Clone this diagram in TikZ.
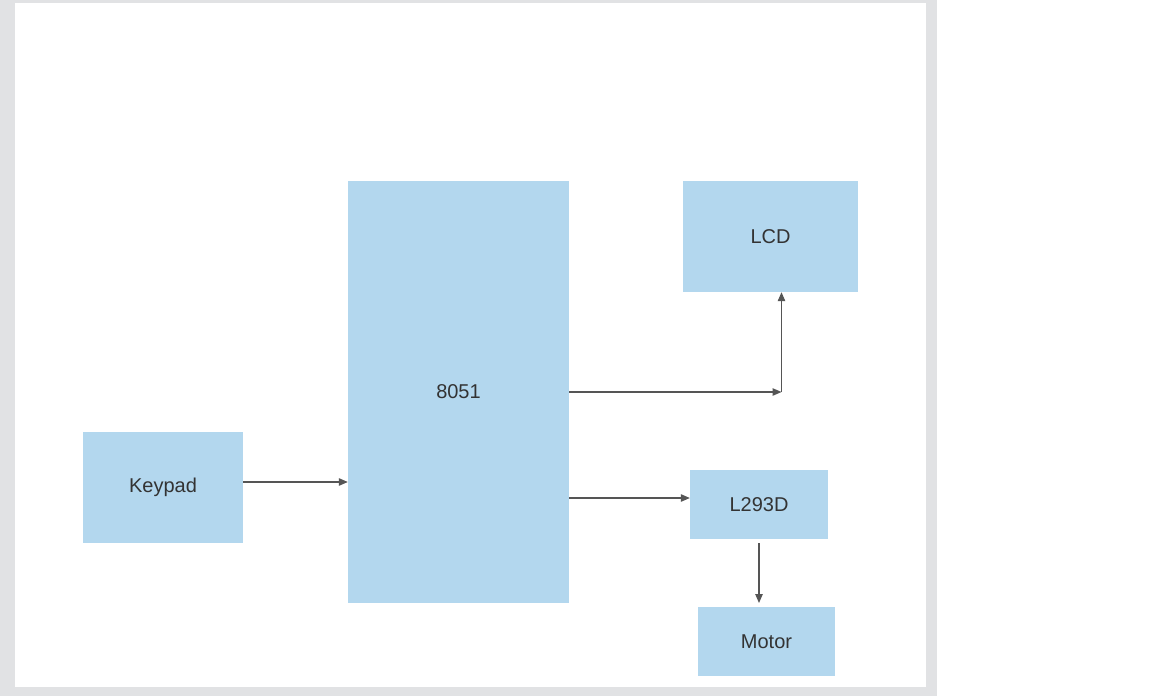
\documentclass[tikz,border=0pt]{standalone}
\usepackage{fontspec}
\setmainfont{Liberation Sans}
\usetikzlibrary{arrows.meta}
\definecolor{boxfill}{HTML}{B3D7EE}
\definecolor{linecol}{HTML}{555555}
\definecolor{textcol}{HTML}{333333}
\definecolor{framegrey}{HTML}{E1E2E4}
\tikzset{
  block/.style={fill=boxfill, draw=none, inner sep=0pt, text=textcol, font=\fontsize{20}{23}\selectfont},
  conn/.style={draw=linecol, line width=1.1pt, -{Triangle[length=9pt,width=7.5pt]}},
}
\begin{document}
\begin{tikzpicture}[x=1pt,y=-1pt]
\useasboundingbox (0,0) rectangle (1152,696);
\fill[white] (0,0) rectangle (1152,696);
\fill[framegrey] (0,0) rectangle (937,696);
\fill[white] (15,3) rectangle (926,687);
\node[block, minimum width=221pt, minimum height=422pt] (mcu) at (458.5,392) {8051};
\node[block, minimum width=175pt, minimum height=111pt] (lcd) at (770.5,236.5) {LCD};
\node[block, minimum width=160pt, minimum height=111pt] (key) at (163,487.5) {Keypad};
\node[block, minimum width=138pt, minimum height=69pt] (drv) at (759,504.5) {L293D};
\node[block, minimum width=137pt, minimum height=69pt] (mot) at (766.5,641.5) {Motor};
\coordinate (bend) at (781.5,392);
\draw[conn] (key.east |- 0,482) -- (mcu.west |- 0,482);
\draw[conn] (mcu.east |- bend) -- (bend);
\draw[conn] (bend) -- (bend |- lcd.south);
\draw[conn] (mcu.east |- 0,498) -- (drv.west |- 0,498);
\draw[conn] (759,543) -- (759,603);
\end{tikzpicture}
\end{document}
